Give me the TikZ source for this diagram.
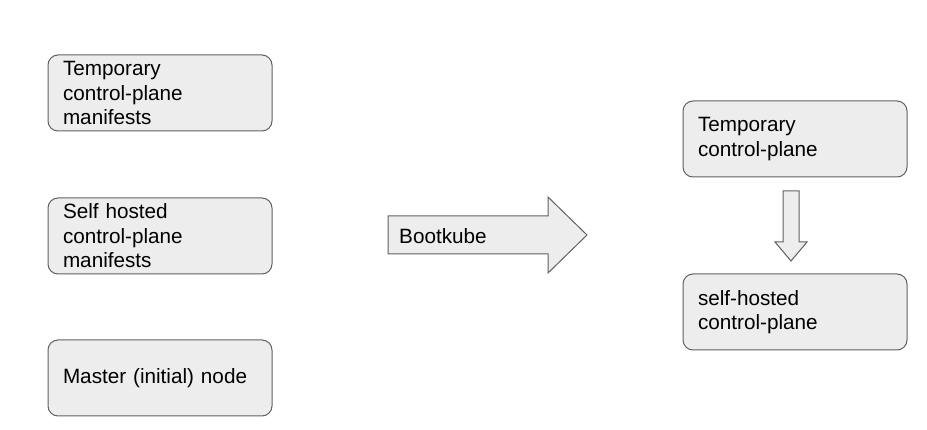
\documentclass[tikz,border=0pt]{standalone}
\usepackage{fontspec}
\setmainfont{Liberation Sans}
\begin{document}
\begin{tikzpicture}[x=1pt,y=-1pt,
  box/.style={draw=black!62,line width=1pt,fill=black!7,rounded corners=10pt,
    minimum width=224pt,minimum height=76pt,text width=194pt,inner xsep=15pt,
    align=left,font=\fontsize{20.7pt}{24.5pt}\selectfont},
  shapeline/.style={draw=black!62,line width=1pt,fill=black!7,line join=miter},
  lbl/.style={font=\fontsize{20.7pt}{24.5pt}\selectfont,anchor=west,inner sep=0pt}]
\useasboundingbox (0,0) rectangle (927,430);
\node[box] (tcpm) at (160,93) {Temporary\\control-plane\\manifests};
\node[box] (shcpm) at (160,236) {Self hosted\\control-plane\\manifests};
\node[box] (master) at (160,378) {Master (initial) node};
\node[box] (tcp) at (795,139) {Temporary\\control-plane};
\node[box] (shcp) at (795,312) {self-hosted\\control-plane};
\draw[shapeline] (388,216) -- (548,216) -- (548,197) -- (587,235) -- (548,273) -- (548,254) -- (388,254) -- cycle;
\node[lbl] (boot) at (399,236) {Bootkube};
\draw[shapeline] (783,191) -- (799,191) -- (799,242) -- (807,242) -- (791,261) -- (775,242) -- (783,242) -- cycle;
\end{tikzpicture}
\end{document}
